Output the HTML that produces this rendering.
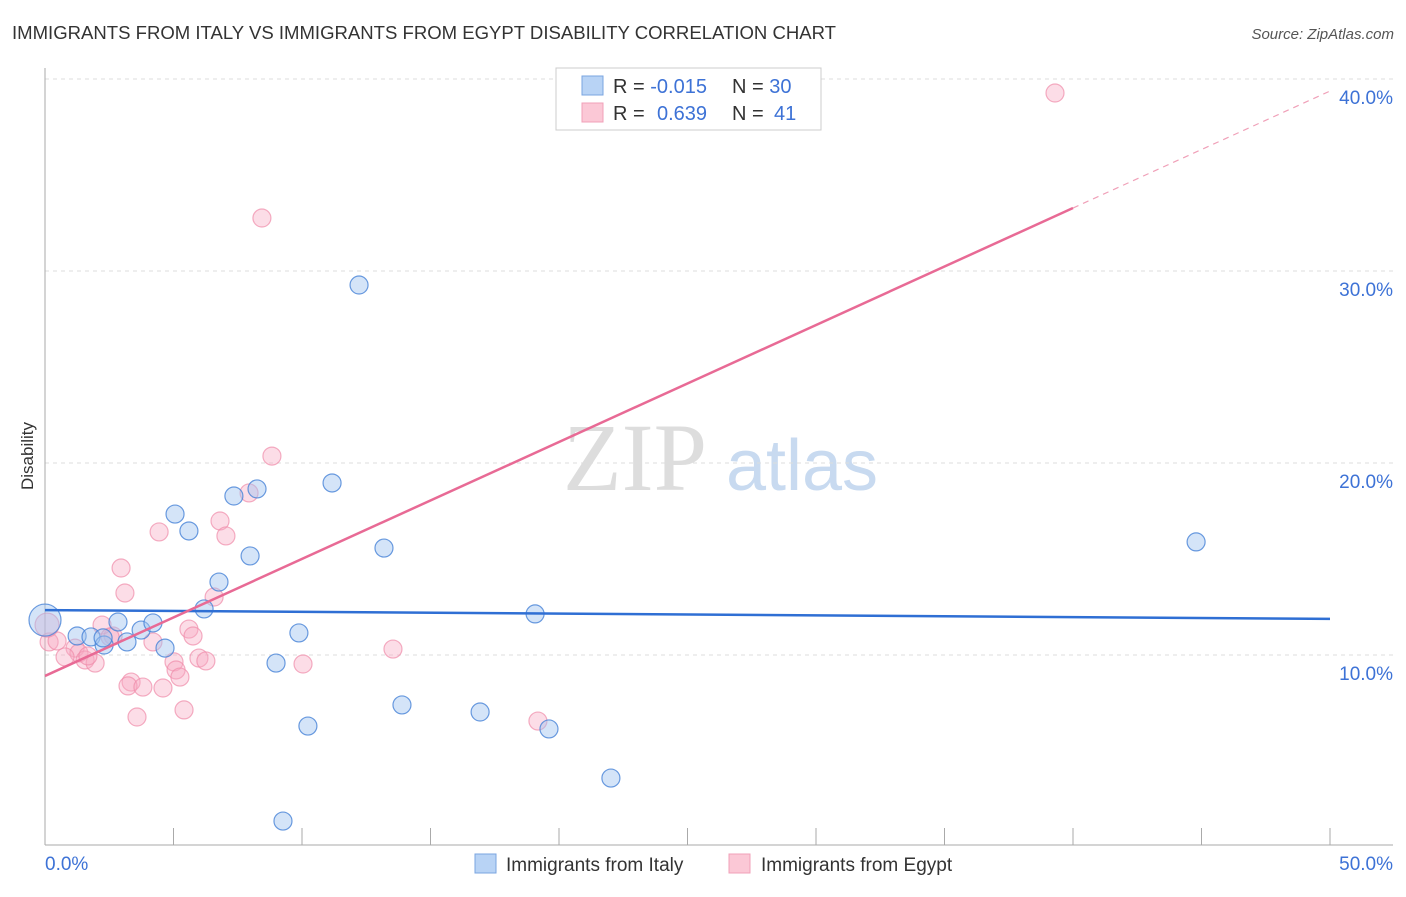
<!DOCTYPE html>
<html><head><meta charset="utf-8"><style>
body{margin:0;background:#fff;font-family:"Liberation Sans",sans-serif;}
svg text{font-family:"Liberation Sans",sans-serif;}
</style></head><body>
<svg id="chart" width="1406" height="892" xmlns="http://www.w3.org/2000/svg">
<text x="12" y="39" font-size="18" fill="#333" textLength="824" lengthAdjust="spacingAndGlyphs">IMMIGRANTS FROM ITALY VS IMMIGRANTS FROM EGYPT DISABILITY CORRELATION CHART</text>
<text x="1394" y="39" font-size="15" fill="#555" text-anchor="end" font-style="italic">Source: ZipAtlas.com</text>
<text transform="translate(33,456) rotate(-90)" font-size="17" fill="#333" text-anchor="middle">Disability</text>
<g><text x="635" y="490" font-size="96" fill="#ddd" text-anchor="middle" style="font-family:'Liberation Serif',serif">ZIP</text><text x="802" y="490" font-size="72" fill="#c8daf0" text-anchor="middle">atlas</text></g>
<g id="grid"></g><g id="axes"></g><g id="marks"></g>
<g>
<rect x="556" y="68" width="265" height="62" fill="#fff" stroke="#ccc"/>
<rect x="582" y="76" width="21" height="19" fill="#b8d3f5" stroke="#7aa5e0"/>
<rect x="582" y="103" width="21" height="19" fill="#fbc8d6" stroke="#f0a0b8"/>
<text x="613" y="93" font-size="20" fill="#333">R = <tspan fill="#3d72d6">-0.015</tspan></text>
<text x="732" y="93" font-size="20" fill="#333">N = <tspan fill="#3d72d6">30</tspan></text>
<text x="613" y="120" font-size="20" fill="#333">R = <tspan fill="#3d72d6" x="657">0.639</tspan></text>
<text x="732" y="120" font-size="20" fill="#333">N = <tspan fill="#3d72d6" x="774">41</tspan></text>
</g>
<g>
<rect x="475" y="854" width="21" height="19" fill="#b8d3f5" stroke="#7aa5e0"/>
<text x="506" y="871" font-size="19" fill="#333">Immigrants from Italy</text>
<rect x="729" y="854" width="21" height="19" fill="#fbc8d6" stroke="#f0a0b8"/>
<text x="761" y="871" font-size="19" fill="#333">Immigrants from Egypt</text>
</g>
</svg>
<script>
const yTicks=[10,20,30,40];
const yTickLabels=["10.0%","20.0%","30.0%","40.0%"];
const xTicks=[0,5,10,15,20,25,30,35,40,45,50];
const xEndLabels=["0.0%","50.0%"];
const italyX=[0,1.25,1.79,2.30,2.84,3.19,3.74,4.20,4.67,5.06,5.60,6.19,6.77,7.35,7.98,8.25,8.99,9.26,9.88,10.23,11.17,12.22,13.19,13.89,16.93,19.07,19.61,22.02,44.79,2.26];
const italyY=[11.82,10.99,10.94,10.52,11.72,10.68,11.30,11.67,10.36,17.34,16.46,12.40,13.80,18.28,15.16,18.65,9.58,1.35,11.15,6.30,18.96,29.27,15.57,7.40,7.03,12.14,6.15,3.59,15.89,10.89];
const egyptX=[39.30,8.44,8.83,7.94,6.81,7.04,4.44,2.96,3.11,6.58,5.60,5.76,4.20,2.65,2.22,2.53,0.16,0.47,1.17,1.32,0.78,1.56,1.95,1.67,5.99,6.26,5.02,5.10,5.25,3.35,3.23,3.81,4.59,3.58,5.41,10.04,13.54,19.18,0.08];
const egyptY=[39.27,32.76,20.36,18.44,16.98,16.20,16.41,14.53,13.23,13.02,11.35,10.99,10.68,10.99,11.56,10.94,10.68,10.73,10.36,10.10,9.90,9.74,9.58,9.95,9.84,9.69,9.64,9.22,8.85,8.59,8.39,8.33,8.28,6.77,7.14,9.53,10.31,6.56,11.56];
const italyTrend=[12.34,11.88];
const egyptTrend=[8.91,33.28];
const NS="http://www.w3.org/2000/svg";
const X=v=>45+v*25.7, Y=v=>847-v*19.2;
function mk(t,p,a){const e=document.createElementNS(NS,t);for(const k in a)e.setAttribute(k,a[k]);p.appendChild(e);return e;}
const grid=document.getElementById('grid'),axes=document.getElementById('axes'),marks=document.getElementById('marks');
yTicks.forEach((t,i)=>{
 const l=mk('line',grid,{x1:45,x2:1393,y1:Y(t),y2:Y(t),stroke:'#ddd','stroke-dasharray':'4,4'});
 
 
 const tx=mk('text',axes,{x:1393,y:Y(t)+25,'font-size':19,fill:'#3d72d6','text-anchor':'end'});
 tx.textContent=yTickLabels[i];
 
 
});
const ax=mk('line',axes,{x1:45,x2:45,y1:68,y2:845,stroke:'#aaa'});


const bx=mk('line',axes,{x1:45,x2:1393,y1:845,y2:845,stroke:'#aaa'});


xTicks.forEach(t=>{
 const l=mk('line',axes,{x1:X(t),x2:X(t),y1:828,y2:845,stroke:'#aaa'});
 
 
});
[[0,'start',45],[50,'end',1393]].forEach((d,i)=>{
 const tx=mk('text',axes,{x:d[2],y:870,'font-size':19,fill:'#3d72d6','text-anchor':d[1]});
 tx.textContent=xEndLabels[i];
 
 
});
egyptX.forEach((x,i)=>{
 const c=mk('circle',marks,{cx:X(x),cy:Y(egyptY[i]),r:(i==38?12:9),fill:'rgba(248,170,195,0.4)',stroke:'rgba(240,140,170,0.7)','stroke-width':1.2});
 
 
});
italyX.forEach((x,i)=>{
 const c=mk('circle',marks,{cx:X(x),cy:Y(italyY[i]),r:(i==0?16:9),fill:'rgba(160,195,240,0.45)',stroke:'rgba(70,130,215,0.8)','stroke-width':1.2});
 
 
});
const tb=mk('line',marks,{x1:X(0),x2:X(50),y1:Y(italyTrend[0]),y2:Y(italyTrend[1]),stroke:'#2f6fd4','stroke-width':2.5});


const slope=(egyptTrend[1]-egyptTrend[0])/40;
const tp=mk('line',marks,{x1:X(0),x2:X(40),y1:Y(egyptTrend[0]),y2:Y(egyptTrend[1]),stroke:'#e86a95','stroke-width':2.5});


const td=mk('line',marks,{x1:X(40),x2:X(50),y1:Y(egyptTrend[1]),y2:Y(egyptTrend[1]+slope*10),stroke:'#f0a0b8','stroke-width':1.2,'stroke-dasharray':'6,5'});


</script>
</body></html>
